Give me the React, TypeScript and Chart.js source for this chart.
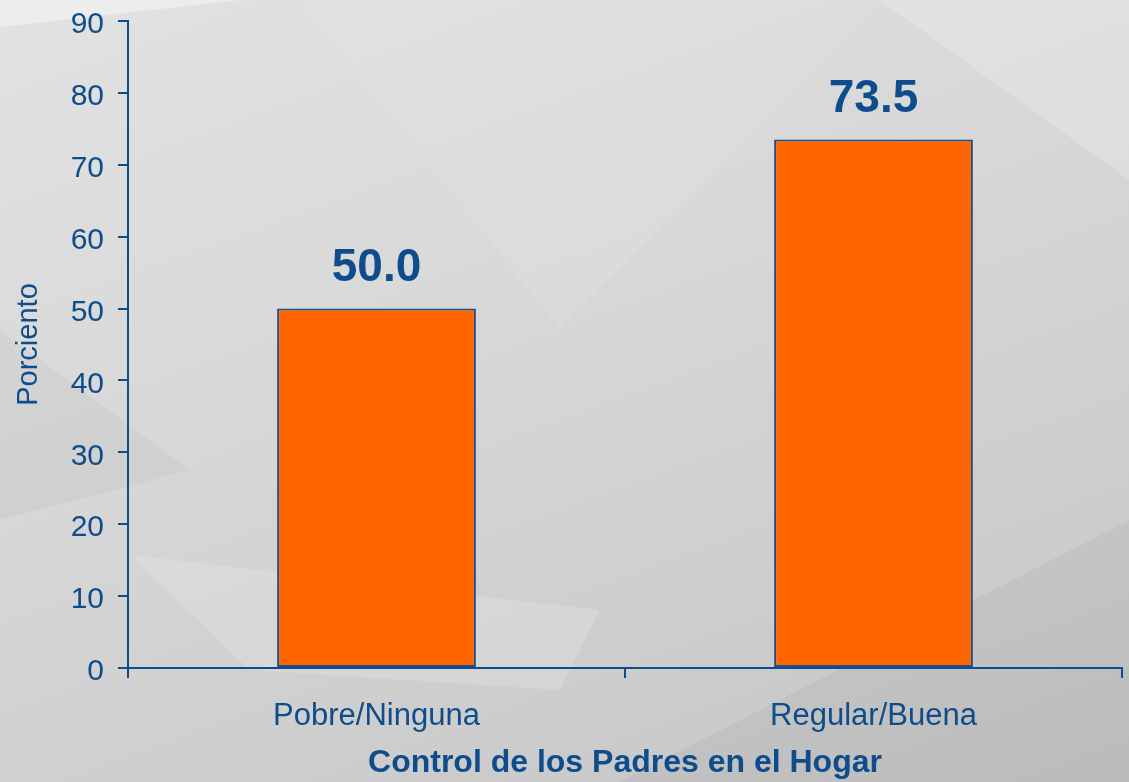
import React, { useEffect, useRef } from "react";
import { Chart, registerables } from "chart.js";

Chart.register(...registerables);

const categories = ["Pobre/Ninguna", "Regular/Buena"];
const values = [50.0, 73.5];
const yMin = 0;
const yMax = 90;
const yStep = 10;
const xTitle = "Control de los Padres en el Hogar";
const yTitle = "Porciento";

const BLUE = "#0E4C8B";
const ORANGE = "#FF6600";
const FONT = "'Liberation Sans', Arial, Helvetica, sans-serif";

const valueLabels = {
  id: "valueLabels",
  afterDatasetsDraw(chart: any) {
    const ctx = chart.ctx;
    const meta = chart.getDatasetMeta(0);
    ctx.save();
    ctx.font = `bold 46px ${FONT}`;
    ctx.fillStyle = BLUE;
    ctx.textAlign = "center";
    ctx.textBaseline = "alphabetic";
    meta.data.forEach((bar: any, i: number) => {
      ctx.fillText(values[i].toFixed(1), bar.x, bar.y - 28);
    });
    ctx.restore();
  },
};

const facets: { clip: string; bg: string }[] = [
  { clip: "polygon(0 0, 240px 0, 0 27px)", bg: "rgba(255,255,255,0.4)" },
  { clip: "polygon(880px 0, 1129px 0, 1129px 180px)", bg: "rgba(255,255,255,0.2)" },
  { clip: "polygon(0 330px, 190px 470px, 0 520px)", bg: "rgba(0,0,0,0.03)" },
  { clip: "polygon(130px 555px, 600px 610px, 560px 690px, 250px 670px)", bg: "rgba(255,255,255,0.15)" },
  { clip: "polygon(620px 782px, 1129px 520px, 1129px 782px)", bg: "rgba(0,0,0,0.04)" },
  { clip: "polygon(300px 0, 880px 0, 560px 330px)", bg: "rgba(255,255,255,0.08)" },
];

export default function App() {
  const canvasRef = useRef<HTMLCanvasElement | null>(null);

  useEffect(() => {
    if (!canvasRef.current) return;
    const chart = new Chart(canvasRef.current, {
      type: "bar",
      data: {
        labels: categories,
        datasets: [
          {
            data: values,
            backgroundColor: ORANGE,
            borderColor: "#1F4E86",
            borderWidth: 2,
            borderSkipped: false,
            categoryPercentage: 1,
            barPercentage: 0.4,
          },
        ],
      },
      options: {
        responsive: true,
        maintainAspectRatio: false,
        animation: false,
        layout: { padding: { top: 21, right: 7, left: 0, bottom: 0 } },
        plugins: {
          legend: { display: false },
          tooltip: { enabled: false },
          title: { display: false },
        },
        scales: {
          x: {
            offset: true,
            grid: {
              offset: true,
              drawOnChartArea: false,
              drawTicks: true,
              tickLength: 10,
              color: BLUE,
              lineWidth: 2,
            },
            border: { display: true, color: BLUE, width: 2 },
            ticks: {
              color: BLUE,
              font: { family: FONT, size: 31 },
              padding: 20,
            },
            title: {
              display: true,
              text: xTitle,
              color: BLUE,
              font: { family: FONT, size: 32, weight: "bold" },
              padding: { top: 4, bottom: 0 },
            },
            afterFit(scale: any) {
              scale.height = 114;
            },
          },
          y: {
            min: yMin,
            max: yMax,
            grid: {
              drawOnChartArea: false,
              drawTicks: true,
              tickLength: 10,
              color: BLUE,
              lineWidth: 2,
            },
            border: { display: true, color: BLUE, width: 2 },
            ticks: {
              stepSize: yStep,
              color: BLUE,
              font: { family: FONT, size: 30, lineHeight: 0.45 },
              padding: 14,
              labelOffset: 4,
            },
            title: {
              display: true,
              text: yTitle,
              color: BLUE,
              font: { family: FONT, size: 29 },
              padding: { top: 12, bottom: 4 },
            },
            afterFit(scale: any) {
              scale.width = 128;
            },
          },
        },
      },
      plugins: [valueLabels],
    });
    return () => chart.destroy();
  }, []);

  return (
    <div
      style={{
        position: "fixed",
        left: 0,
        top: 0,
        width: 1129,
        height: 782,
        overflow: "hidden",
        background:
          "linear-gradient(160deg, #e2e2e2 0%, #d8d8d8 40%, #cdcdcd 75%, #c3c3c3 100%)",
      }}
    >
      {facets.map((f, i) => (
        <div
          key={i}
          style={{
            position: "absolute",
            inset: 0,
            clipPath: f.clip,
            background: f.bg,
          }}
        />
      ))}
      <canvas
        ref={canvasRef}
        style={{ position: "absolute", left: 0, top: 0, width: 1129, height: 782 }}
      />
    </div>
  );
}
